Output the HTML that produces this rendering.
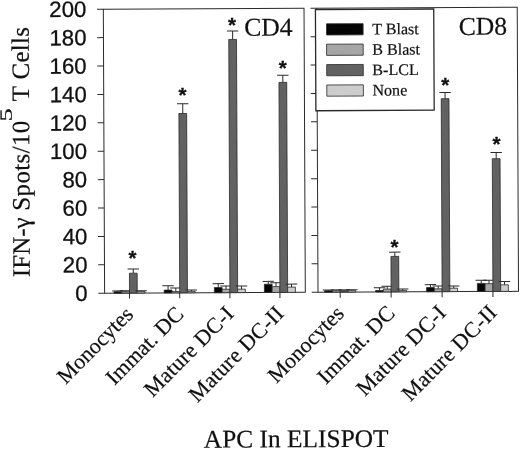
<!DOCTYPE html>
<html><head><meta charset="utf-8"><title>ELISPOT</title>
<style>
html,body{margin:0;padding:0;background:#fff;}
svg{display:block}
.sans{font-family:"Liberation Sans",sans-serif;fill:#111;stroke:#111;stroke-width:0.3px}
.serif{font-family:"Liberation Serif",serif;fill:#111;stroke:#111;stroke-width:0.2px}
</style></head><body>
<svg width="520" height="449" viewBox="0 0 520 449">
<rect width="520" height="449" fill="#fff"/>
<g transform="rotate(-0.26 260 224)">
<path d="M104.3 292.5 V8.5 H305 V292.5 Z" fill="none" stroke="#2a2a2a" stroke-width="1"/>
<line x1="98.0" x2="104.3" y1="292.50" y2="292.50" stroke="#2a2a2a" stroke-width="1"/>
<line x1="98.0" x2="104.3" y1="264.10" y2="264.10" stroke="#2a2a2a" stroke-width="1"/>
<line x1="98.0" x2="104.3" y1="235.70" y2="235.70" stroke="#2a2a2a" stroke-width="1"/>
<line x1="98.0" x2="104.3" y1="207.30" y2="207.30" stroke="#2a2a2a" stroke-width="1"/>
<line x1="98.0" x2="104.3" y1="178.90" y2="178.90" stroke="#2a2a2a" stroke-width="1"/>
<line x1="98.0" x2="104.3" y1="150.50" y2="150.50" stroke="#2a2a2a" stroke-width="1"/>
<line x1="98.0" x2="104.3" y1="122.10" y2="122.10" stroke="#2a2a2a" stroke-width="1"/>
<line x1="98.0" x2="104.3" y1="93.70" y2="93.70" stroke="#2a2a2a" stroke-width="1"/>
<line x1="98.0" x2="104.3" y1="65.30" y2="65.30" stroke="#2a2a2a" stroke-width="1"/>
<line x1="98.0" x2="104.3" y1="36.90" y2="36.90" stroke="#2a2a2a" stroke-width="1"/>
<line x1="98.0" x2="104.3" y1="8.50" y2="8.50" stroke="#2a2a2a" stroke-width="1"/>
<line x1="129.2" x2="129.2" y1="292.5" y2="298.0" stroke="#2a2a2a" stroke-width="1"/>
<line x1="117.57" x2="117.57" y1="291.08" y2="290.23" stroke="#2a2a2a" stroke-width="1"/>
<line x1="111.87" x2="123.27" y1="290.23" y2="290.23" stroke="#2a2a2a" stroke-width="1"/>
<rect x="113.70" y="291.08" width="7.75" height="1.42" fill="#050505" stroke="#2a2a2a" stroke-width="0.8"/>
<line x1="125.32" x2="125.32" y1="291.08" y2="290.23" stroke="#2a2a2a" stroke-width="1"/>
<line x1="119.62" x2="131.02" y1="290.23" y2="290.23" stroke="#2a2a2a" stroke-width="1"/>
<rect x="121.45" y="291.08" width="7.75" height="1.42" fill="#a6a6a6" stroke="#2a2a2a" stroke-width="0.8"/>
<line x1="133.07" x2="133.07" y1="272.62" y2="268.36" stroke="#2a2a2a" stroke-width="1"/>
<line x1="127.37" x2="138.77" y1="268.36" y2="268.36" stroke="#2a2a2a" stroke-width="1"/>
<rect x="129.20" y="272.62" width="7.75" height="19.88" fill="#626262" stroke="#2a2a2a" stroke-width="0.8"/>
<line x1="140.82" x2="140.82" y1="291.08" y2="290.23" stroke="#2a2a2a" stroke-width="1"/>
<line x1="135.12" x2="146.52" y1="290.23" y2="290.23" stroke="#2a2a2a" stroke-width="1"/>
<rect x="136.95" y="291.08" width="7.75" height="1.42" fill="#cdcdcd" stroke="#2a2a2a" stroke-width="0.8"/>
<line x1="179.4" x2="179.4" y1="292.5" y2="298.0" stroke="#2a2a2a" stroke-width="1"/>
<line x1="167.78" x2="167.78" y1="289.66" y2="285.40" stroke="#2a2a2a" stroke-width="1"/>
<line x1="162.08" x2="173.47" y1="285.40" y2="285.40" stroke="#2a2a2a" stroke-width="1"/>
<rect x="163.90" y="289.66" width="7.75" height="2.84" fill="#050505" stroke="#2a2a2a" stroke-width="0.8"/>
<line x1="175.53" x2="175.53" y1="291.08" y2="287.53" stroke="#2a2a2a" stroke-width="1"/>
<line x1="169.83" x2="181.22" y1="287.53" y2="287.53" stroke="#2a2a2a" stroke-width="1"/>
<rect x="171.65" y="291.08" width="7.75" height="1.42" fill="#a6a6a6" stroke="#2a2a2a" stroke-width="0.8"/>
<line x1="183.28" x2="183.28" y1="113.15" y2="103.36" stroke="#2a2a2a" stroke-width="1"/>
<line x1="177.58" x2="188.97" y1="103.36" y2="103.36" stroke="#2a2a2a" stroke-width="1"/>
<rect x="179.40" y="113.15" width="7.75" height="179.35" fill="#626262" stroke="#2a2a2a" stroke-width="0.8"/>
<line x1="191.03" x2="191.03" y1="291.08" y2="289.66" stroke="#2a2a2a" stroke-width="1"/>
<line x1="185.33" x2="196.72" y1="289.66" y2="289.66" stroke="#2a2a2a" stroke-width="1"/>
<rect x="187.15" y="291.08" width="7.75" height="1.42" fill="#cdcdcd" stroke="#2a2a2a" stroke-width="0.8"/>
<line x1="229.6" x2="229.6" y1="292.5" y2="298.0" stroke="#2a2a2a" stroke-width="1"/>
<line x1="217.97" x2="217.97" y1="287.39" y2="283.41" stroke="#2a2a2a" stroke-width="1"/>
<line x1="212.28" x2="223.67" y1="283.41" y2="283.41" stroke="#2a2a2a" stroke-width="1"/>
<rect x="214.10" y="287.39" width="7.75" height="5.11" fill="#050505" stroke="#2a2a2a" stroke-width="0.8"/>
<line x1="225.72" x2="225.72" y1="289.09" y2="285.83" stroke="#2a2a2a" stroke-width="1"/>
<line x1="220.03" x2="231.42" y1="285.83" y2="285.83" stroke="#2a2a2a" stroke-width="1"/>
<rect x="221.85" y="289.09" width="7.75" height="3.41" fill="#a6a6a6" stroke="#2a2a2a" stroke-width="0.8"/>
<line x1="233.47" x2="233.47" y1="39.31" y2="30.79" stroke="#2a2a2a" stroke-width="1"/>
<line x1="227.78" x2="239.17" y1="30.79" y2="30.79" stroke="#2a2a2a" stroke-width="1"/>
<rect x="229.60" y="39.31" width="7.75" height="253.19" fill="#626262" stroke="#2a2a2a" stroke-width="0.8"/>
<line x1="241.22" x2="241.22" y1="289.09" y2="285.83" stroke="#2a2a2a" stroke-width="1"/>
<line x1="235.53" x2="246.92" y1="285.83" y2="285.83" stroke="#2a2a2a" stroke-width="1"/>
<rect x="237.35" y="289.09" width="7.75" height="3.41" fill="#cdcdcd" stroke="#2a2a2a" stroke-width="0.8"/>
<line x1="279.6" x2="279.6" y1="292.5" y2="298.0" stroke="#2a2a2a" stroke-width="1"/>
<line x1="267.98" x2="267.98" y1="284.26" y2="281.42" stroke="#2a2a2a" stroke-width="1"/>
<line x1="262.28" x2="273.68" y1="281.42" y2="281.42" stroke="#2a2a2a" stroke-width="1"/>
<rect x="264.10" y="284.26" width="7.75" height="8.24" fill="#050505" stroke="#2a2a2a" stroke-width="0.8"/>
<line x1="275.73" x2="275.73" y1="286.68" y2="282.84" stroke="#2a2a2a" stroke-width="1"/>
<line x1="270.03" x2="281.43" y1="282.84" y2="282.84" stroke="#2a2a2a" stroke-width="1"/>
<rect x="271.85" y="286.68" width="7.75" height="5.82" fill="#a6a6a6" stroke="#2a2a2a" stroke-width="0.8"/>
<line x1="283.48" x2="283.48" y1="82.48" y2="75.38" stroke="#2a2a2a" stroke-width="1"/>
<line x1="277.78" x2="289.18" y1="75.38" y2="75.38" stroke="#2a2a2a" stroke-width="1"/>
<rect x="279.60" y="82.48" width="7.75" height="210.02" fill="#626262" stroke="#2a2a2a" stroke-width="0.8"/>
<line x1="291.23" x2="291.23" y1="287.25" y2="284.26" stroke="#2a2a2a" stroke-width="1"/>
<line x1="285.53" x2="296.93" y1="284.26" y2="284.26" stroke="#2a2a2a" stroke-width="1"/>
<rect x="287.35" y="287.25" width="7.75" height="5.25" fill="#cdcdcd" stroke="#2a2a2a" stroke-width="0.8"/>
<path d="M317.7 292.5 V8.5 H518.2 V292.5 Z" fill="none" stroke="#2a2a2a" stroke-width="1"/>
<line x1="311.4" x2="317.7" y1="292.50" y2="292.50" stroke="#2a2a2a" stroke-width="1"/>
<line x1="311.4" x2="317.7" y1="264.10" y2="264.10" stroke="#2a2a2a" stroke-width="1"/>
<line x1="311.4" x2="317.7" y1="235.70" y2="235.70" stroke="#2a2a2a" stroke-width="1"/>
<line x1="311.4" x2="317.7" y1="207.30" y2="207.30" stroke="#2a2a2a" stroke-width="1"/>
<line x1="311.4" x2="317.7" y1="178.90" y2="178.90" stroke="#2a2a2a" stroke-width="1"/>
<line x1="311.4" x2="317.7" y1="150.50" y2="150.50" stroke="#2a2a2a" stroke-width="1"/>
<line x1="311.4" x2="317.7" y1="122.10" y2="122.10" stroke="#2a2a2a" stroke-width="1"/>
<line x1="311.4" x2="317.7" y1="93.70" y2="93.70" stroke="#2a2a2a" stroke-width="1"/>
<line x1="311.4" x2="317.7" y1="65.30" y2="65.30" stroke="#2a2a2a" stroke-width="1"/>
<line x1="311.4" x2="317.7" y1="36.90" y2="36.90" stroke="#2a2a2a" stroke-width="1"/>
<line x1="311.4" x2="317.7" y1="8.50" y2="8.50" stroke="#2a2a2a" stroke-width="1"/>
<line x1="339.9" x2="339.9" y1="292.5" y2="298.0" stroke="#2a2a2a" stroke-width="1"/>
<line x1="328.27" x2="328.27" y1="291.08" y2="290.23" stroke="#2a2a2a" stroke-width="1"/>
<line x1="322.57" x2="333.97" y1="290.23" y2="290.23" stroke="#2a2a2a" stroke-width="1"/>
<rect x="324.40" y="291.08" width="7.75" height="1.42" fill="#050505" stroke="#2a2a2a" stroke-width="0.8"/>
<line x1="336.02" x2="336.02" y1="291.08" y2="290.23" stroke="#2a2a2a" stroke-width="1"/>
<line x1="330.32" x2="341.72" y1="290.23" y2="290.23" stroke="#2a2a2a" stroke-width="1"/>
<rect x="332.15" y="291.08" width="7.75" height="1.42" fill="#a6a6a6" stroke="#2a2a2a" stroke-width="0.8"/>
<line x1="343.77" x2="343.77" y1="291.08" y2="290.23" stroke="#2a2a2a" stroke-width="1"/>
<line x1="338.07" x2="349.47" y1="290.23" y2="290.23" stroke="#2a2a2a" stroke-width="1"/>
<rect x="339.90" y="291.08" width="7.75" height="1.42" fill="#626262" stroke="#2a2a2a" stroke-width="0.8"/>
<line x1="351.52" x2="351.52" y1="291.08" y2="290.23" stroke="#2a2a2a" stroke-width="1"/>
<line x1="345.82" x2="357.22" y1="290.23" y2="290.23" stroke="#2a2a2a" stroke-width="1"/>
<rect x="347.65" y="291.08" width="7.75" height="1.42" fill="#cdcdcd" stroke="#2a2a2a" stroke-width="0.8"/>
<line x1="390.8" x2="390.8" y1="292.5" y2="298.0" stroke="#2a2a2a" stroke-width="1"/>
<line x1="379.18" x2="379.18" y1="291.08" y2="288.24" stroke="#2a2a2a" stroke-width="1"/>
<line x1="373.48" x2="384.88" y1="288.24" y2="288.24" stroke="#2a2a2a" stroke-width="1"/>
<rect x="375.30" y="291.08" width="7.75" height="1.42" fill="#050505" stroke="#2a2a2a" stroke-width="0.8"/>
<line x1="386.93" x2="386.93" y1="289.66" y2="286.82" stroke="#2a2a2a" stroke-width="1"/>
<line x1="381.23" x2="392.62" y1="286.82" y2="286.82" stroke="#2a2a2a" stroke-width="1"/>
<rect x="383.05" y="289.66" width="7.75" height="2.84" fill="#a6a6a6" stroke="#2a2a2a" stroke-width="0.8"/>
<line x1="394.68" x2="394.68" y1="257.00" y2="252.74" stroke="#2a2a2a" stroke-width="1"/>
<line x1="388.98" x2="400.38" y1="252.74" y2="252.74" stroke="#2a2a2a" stroke-width="1"/>
<rect x="390.80" y="257.00" width="7.75" height="35.50" fill="#626262" stroke="#2a2a2a" stroke-width="0.8"/>
<line x1="402.43" x2="402.43" y1="291.08" y2="289.66" stroke="#2a2a2a" stroke-width="1"/>
<line x1="396.73" x2="408.12" y1="289.66" y2="289.66" stroke="#2a2a2a" stroke-width="1"/>
<rect x="398.55" y="291.08" width="7.75" height="1.42" fill="#cdcdcd" stroke="#2a2a2a" stroke-width="0.8"/>
<line x1="441.8" x2="441.8" y1="292.5" y2="298.0" stroke="#2a2a2a" stroke-width="1"/>
<line x1="430.18" x2="430.18" y1="288.24" y2="285.40" stroke="#2a2a2a" stroke-width="1"/>
<line x1="424.48" x2="435.88" y1="285.40" y2="285.40" stroke="#2a2a2a" stroke-width="1"/>
<rect x="426.30" y="288.24" width="7.75" height="4.26" fill="#050505" stroke="#2a2a2a" stroke-width="0.8"/>
<line x1="437.93" x2="437.93" y1="289.66" y2="286.82" stroke="#2a2a2a" stroke-width="1"/>
<line x1="432.23" x2="443.62" y1="286.82" y2="286.82" stroke="#2a2a2a" stroke-width="1"/>
<rect x="434.05" y="289.66" width="7.75" height="2.84" fill="#a6a6a6" stroke="#2a2a2a" stroke-width="0.8"/>
<line x1="445.68" x2="445.68" y1="99.52" y2="93.27" stroke="#2a2a2a" stroke-width="1"/>
<line x1="439.98" x2="451.38" y1="93.27" y2="93.27" stroke="#2a2a2a" stroke-width="1"/>
<rect x="441.80" y="99.52" width="7.75" height="192.98" fill="#626262" stroke="#2a2a2a" stroke-width="0.8"/>
<line x1="453.43" x2="453.43" y1="289.09" y2="286.96" stroke="#2a2a2a" stroke-width="1"/>
<line x1="447.73" x2="459.12" y1="286.96" y2="286.96" stroke="#2a2a2a" stroke-width="1"/>
<rect x="449.55" y="289.09" width="7.75" height="3.41" fill="#cdcdcd" stroke="#2a2a2a" stroke-width="0.8"/>
<line x1="492.6" x2="492.6" y1="292.5" y2="298.0" stroke="#2a2a2a" stroke-width="1"/>
<line x1="480.98" x2="480.98" y1="284.41" y2="281.28" stroke="#2a2a2a" stroke-width="1"/>
<line x1="475.28" x2="486.68" y1="281.28" y2="281.28" stroke="#2a2a2a" stroke-width="1"/>
<rect x="477.10" y="284.41" width="7.75" height="8.09" fill="#050505" stroke="#2a2a2a" stroke-width="0.8"/>
<line x1="488.73" x2="488.73" y1="284.69" y2="281.28" stroke="#2a2a2a" stroke-width="1"/>
<line x1="483.03" x2="494.43" y1="281.28" y2="281.28" stroke="#2a2a2a" stroke-width="1"/>
<rect x="484.85" y="284.69" width="7.75" height="7.81" fill="#a6a6a6" stroke="#2a2a2a" stroke-width="0.8"/>
<line x1="496.48" x2="496.48" y1="159.73" y2="153.48" stroke="#2a2a2a" stroke-width="1"/>
<line x1="490.78" x2="502.18" y1="153.48" y2="153.48" stroke="#2a2a2a" stroke-width="1"/>
<rect x="492.60" y="159.73" width="7.75" height="132.77" fill="#626262" stroke="#2a2a2a" stroke-width="0.8"/>
<line x1="504.23" x2="504.23" y1="285.97" y2="282.56" stroke="#2a2a2a" stroke-width="1"/>
<line x1="498.53" x2="509.93" y1="282.56" y2="282.56" stroke="#2a2a2a" stroke-width="1"/>
<rect x="500.35" y="285.97" width="7.75" height="6.53" fill="#cdcdcd" stroke="#2a2a2a" stroke-width="0.8"/>
<text x="87.3" y="300.10" text-anchor="end" class="sans" font-size="22.2">0</text>
<text x="87.3" y="271.70" text-anchor="end" class="sans" font-size="22.2">20</text>
<text x="87.3" y="243.30" text-anchor="end" class="sans" font-size="22.2">40</text>
<text x="87.3" y="214.90" text-anchor="end" class="sans" font-size="22.2">60</text>
<text x="87.3" y="186.50" text-anchor="end" class="sans" font-size="22.2">80</text>
<text x="87.3" y="158.10" text-anchor="end" class="sans" font-size="22.2">100</text>
<text x="87.3" y="129.70" text-anchor="end" class="sans" font-size="22.2">120</text>
<text x="87.3" y="101.30" text-anchor="end" class="sans" font-size="22.2">140</text>
<text x="87.3" y="72.90" text-anchor="end" class="sans" font-size="22.2">160</text>
<text x="87.3" y="44.50" text-anchor="end" class="sans" font-size="22.2">180</text>
<text x="87.3" y="16.10" text-anchor="end" class="sans" font-size="22.2">200</text>
<rect x="316.4" y="9.8" width="118.3" height="101.2" fill="#fff" stroke="#2a2a2a" stroke-width="1.3"/>
<rect x="327.4" y="24.10" width="36.6" height="11.2" fill="#050505" stroke="#2a2a2a" stroke-width="0.8"/>
<text x="373.0" y="34.90" class="serif" font-size="16.1">T Blast</text>
<rect x="327.4" y="44.50" width="36.6" height="11.2" fill="#a6a6a6" stroke="#2a2a2a" stroke-width="0.8"/>
<text x="373.0" y="55.30" class="serif" font-size="16.1">B Blast</text>
<rect x="327.4" y="64.90" width="36.6" height="11.2" fill="#626262" stroke="#2a2a2a" stroke-width="0.8"/>
<text x="373.0" y="75.70" class="serif" font-size="16.1">B-LCL</text>
<rect x="327.4" y="85.30" width="36.6" height="11.2" fill="#cdcdcd" stroke="#2a2a2a" stroke-width="0.8"/>
<text x="373.0" y="96.10" class="serif" font-size="16.1">None</text>
<text x="245.0" y="35.8" class="serif" font-size="25.7">CD4</text>
<text x="459.5" y="35.8" class="serif" font-size="25.7">CD8</text>
<text transform="translate(29.6,276.0) rotate(-90) scale(1,1)" class="serif" font-size="25" letter-spacing="0">IFN-γ</text>
<text transform="translate(29.6,209.6) rotate(-90) scale(1,1)" class="serif" font-size="25" letter-spacing="0.35">Spots/10</text>
<text transform="translate(12.3,120.4) rotate(-90) scale(1.55,1)" class="serif" font-size="17.2" letter-spacing="0">5</text>
<text transform="translate(29.6,100.2) rotate(-90) scale(1,1)" class="serif" font-size="25" letter-spacing="0.3">T Cells</text>
<text transform="translate(134.10,315.00) rotate(-45)" text-anchor="end" class="serif" font-size="22" letter-spacing="0">Monocytes</text>
<text transform="translate(184.38,314.92) rotate(-45)" text-anchor="end" class="serif" font-size="22" letter-spacing="0.08">Immat. DC</text>
<text transform="translate(234.75,314.75) rotate(-45)" text-anchor="end" class="serif" font-size="22" letter-spacing="0.25">Mature DC-I</text>
<text transform="translate(284.75,314.75) rotate(-45)" text-anchor="end" class="serif" font-size="22" letter-spacing="0.25">Mature DC-II</text>
<text transform="translate(344.80,315.00) rotate(-45)" text-anchor="end" class="serif" font-size="22" letter-spacing="0">Monocytes</text>
<text transform="translate(395.78,314.92) rotate(-45)" text-anchor="end" class="serif" font-size="22" letter-spacing="0.08">Immat. DC</text>
<text transform="translate(446.95,314.75) rotate(-45)" text-anchor="end" class="serif" font-size="22" letter-spacing="0.25">Mature DC-I</text>
<text transform="translate(497.75,314.75) rotate(-45)" text-anchor="end" class="serif" font-size="22" letter-spacing="0.25">Mature DC-II</text>
<text x="295.2" y="447.4" text-anchor="middle" class="serif" font-size="25.4">APC In ELISPOT</text>
</g>
<text x="132.40" y="265.20" text-anchor="middle" class="sans" font-size="20.5" font-weight="bold">*</text>
<text x="182.40" y="102.10" text-anchor="middle" class="sans" font-size="20.5" font-weight="bold">*</text>
<text x="232.10" y="31.70" text-anchor="middle" class="sans" font-size="20.5" font-weight="bold">*</text>
<text x="282.80" y="74.80" text-anchor="middle" class="sans" font-size="20.5" font-weight="bold">*</text>
<text x="394.40" y="254.10" text-anchor="middle" class="sans" font-size="20.5" font-weight="bold">*</text>
<text x="445.20" y="92.10" text-anchor="middle" class="sans" font-size="20.5" font-weight="bold">*</text>
<text x="496.40" y="151.20" text-anchor="middle" class="sans" font-size="20.5" font-weight="bold">*</text>
</svg>
</body></html>
